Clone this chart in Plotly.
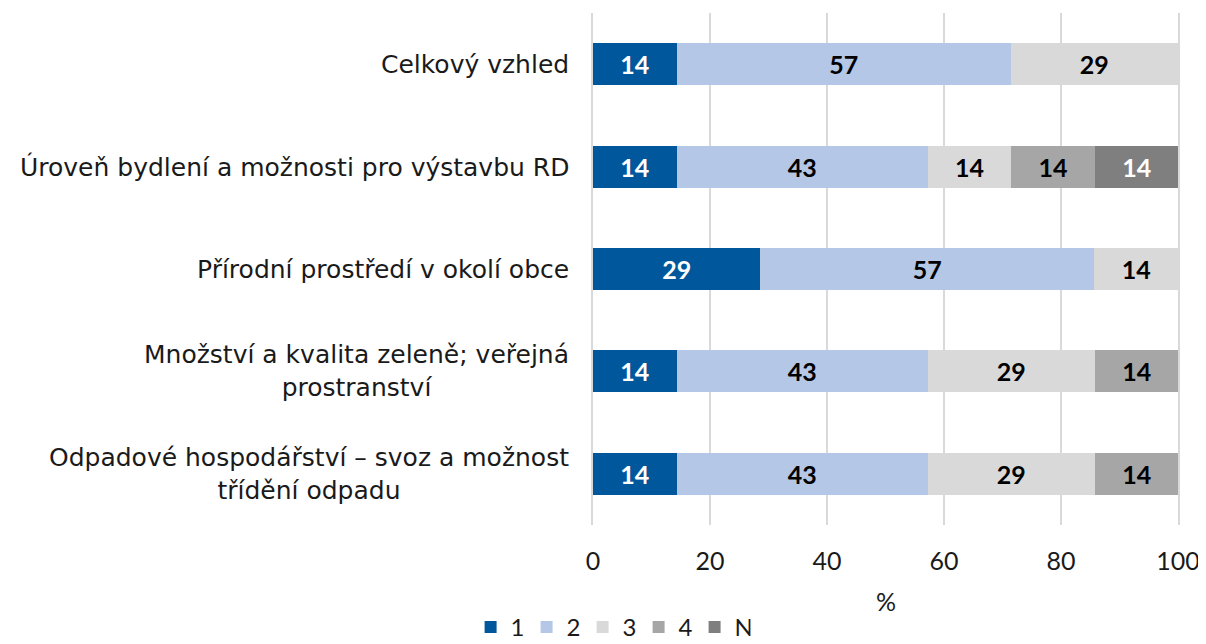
import plotly.graph_objects as go

categories = [
    "Celkový vzhled",
    "Úroveň bydlení a možnosti pro výstavbu RD",
    "Přírodní prostředí v okolí obce",
    "Množství a kvalita zeleně; veřejná<br>prostranství",
    "Odpadové hospodářství – svoz a možnost<br>třídění odpadu",
]
series_names = ["1", "2", "3", "4", "N"]
v1 = [14.3, 14.3, 28.6, 14.3, 14.3]
v2 = [57.1, 42.9, 57.1, 42.9, 42.9]
v3 = [28.6, 14.3, 14.3, 28.6, 28.6]
v4 = [0, 14.3, 0, 14.3, 14.3]
vN = [0, 14.3, 0, 0, 0]
series_values = [v1, v2, v3, v4, vN]
colors = ["#01579B", "#B4C7E7", "#D9D9D9", "#A6A6A6", "#7F7F7F"]
text_colors = ["white", "black", "black", "black", "white"]
x_ticks = [0, 20, 40, 60, 80, 100]
x_title = "%"

NUM_FONT = "Lato"
LABEL_FONT = "DejaVu Sans"
GRID = "#D9D9D9"

fig = go.Figure()
for name, vals, col, tcol in zip(series_names, series_values, colors, text_colors):
    texts = [f"{v:.0f}" if v > 0 else "" for v in vals]
    fig.add_trace(go.Bar(
        name=name,
        y=categories,
        x=vals,
        orientation="h",
        marker=dict(color=col, line=dict(width=0)),
        text=texts,
        textposition="inside",
        insidetextanchor="middle",
        textangle=0,
        textfont=dict(family=NUM_FONT, size=25, color=tcol, weight="bold"),
        width=0.41,
        hoverinfo="skip",
    ))

for cat in categories:
    fig.add_annotation(
        x=0, xref="paper", y=cat, yref="y",
        text=cat, showarrow=False,
        xanchor="right", yanchor="middle", align="center",
        xshift=-22,
        font=dict(family=LABEL_FONT, size=25, color="#1a1a1a"),
    )

fig.add_annotation(
    x=0.5, xref="paper", y=0, yref="paper",
    text=x_title, showarrow=False,
    xanchor="center", yanchor="middle", yshift=-76,
    font=dict(family=NUM_FONT, size=25, color="#1a1a1a"),
)

fig.update_layout(
    barmode="stack",
    width=1198, height=636,
    margin=dict(l=585, r=28, t=5, b=119, autoexpand=False),
    paper_bgcolor="white",
    plot_bgcolor="white",
    uniformtext=dict(mode="show", minsize=10),
    xaxis=dict(
        range=[0, 100],
        tickvals=x_ticks,
        showgrid=True, gridcolor=GRID, gridwidth=2,
        zeroline=False,
        showline=False,
        ticks="",
        ticklabelstandoff=19,
        ticklabeloverflow="allow",
        automargin=False,
        tickfont=dict(family=NUM_FONT, size=25, color="#1a1a1a"),
        fixedrange=True,
    ),
    yaxis=dict(
        autorange="reversed",
        showticklabels=False,
        showgrid=False, zeroline=False, ticks="",
        showline=True, mirror=True, linecolor=GRID, linewidth=2,
        automargin=False,
    ),
    showlegend=True,
    legend=dict(
        orientation="h",
        xref="container", yref="paper",
        x=0.503, xanchor="center",
        y=-0.2, yanchor="middle",
        font=dict(family=NUM_FONT, size=24, color="#1a1a1a"),
        traceorder="normal",
        itemwidth=30,
        entrywidth=11,
        entrywidthmode="pixels",
        tracegroupgap=0,
    ),
    bargap=0.59,
)

fig.write_html("out.html")
